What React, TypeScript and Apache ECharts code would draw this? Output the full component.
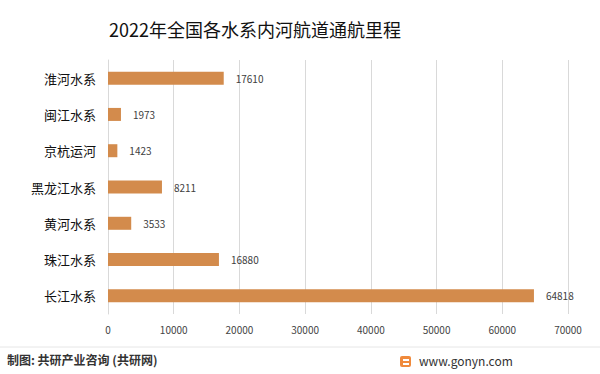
import React, { useEffect, useRef } from "react";
import * as echarts from "echarts";

const categories = ["长江水系", "珠江水系", "黄河水系", "黑龙江水系", "京杭运河", "闽江水系", "淮河水系"];
const values = [64818, 16880, 3533, 8211, 1423, 1973, 17610];
const titleText = "2022年全国各水系内河航道通航里程";
const sourceText = "制图: 共研产业咨询 (共研网)";
const siteText = "www.gonyn.com";

export default function App() {
  const ref = useRef<HTMLDivElement>(null);
  useEffect(() => {
    const chart = echarts.init(ref.current!, null, { renderer: "svg" });
    chart.setOption({
      animation: false,
      backgroundColor: "#ffffff",
      title: {
        text: titleText,
        left: 250,
        textAlign: "center",
        top: 15,
        textStyle: { fontSize: 18, fontWeight: "normal", color: "#111", fontFamily: "Noto Sans CJK SC" },
      },
      grid: { left: 108, right: 32, top: 60, bottom: 60, containLabel: false },
      xAxis: {
        type: "value",
        min: 0,
        max: 70000,
        interval: 10000,
        axisLine: { show: false },
        axisTick: { show: false },
        axisLabel: {
          color: "#444",
          fontSize: 10,
          margin: 10,
          fontFamily: "Noto Sans CJK SC",
          formatter: (v: number) => String(v),
        },
        splitLine: { show: true, lineStyle: { color: "#d9d9d9", width: 1 } },
      },
      yAxis: {
        type: "category",
        data: categories,
        axisLine: { show: true, lineStyle: { color: "#d9d9d9" } },
        axisTick: { show: false },
        axisLabel: { color: "#111", fontSize: 13, margin: 12, fontFamily: "Noto Sans CJK SC" },
      },
      series: [
        {
          type: "bar",
          data: values,
          barWidth: 13,
          itemStyle: { color: "#D38B4C" },
          label: {
            show: true,
            position: "right",
            distance: 12,
            color: "#404040",
            fontSize: 10,
            fontFamily: "Noto Sans CJK SC",
          },
        },
      ],
      graphic: [
        {
          type: "line",
          shape: { x1: 0, y1: 347, x2: 600, y2: 347 },
          style: { stroke: "#e6e6e6", lineWidth: 1 },
        },
        {
          type: "text",
          left: 7,
          top: 353,
          style: { text: sourceText, fontSize: 12, fontWeight: "bold", fill: "#333", fontFamily: "Noto Sans CJK SC" },
        },
        {
          type: "rect",
          shape: { x: 400, y: 356, width: 11, height: 11, r: 2 },
          style: { fill: "#F08A3C" },
        },
        {
          type: "rect",
          shape: { x: 403, y: 359, width: 6, height: 2 },
          style: { fill: "#ffffff" },
        },
        {
          type: "rect",
          shape: { x: 403, y: 363, width: 6, height: 2 },
          style: { fill: "#ffffff" },
        },
        {
          type: "text",
          left: 419,
          top: 354,
          style: { text: siteText, fontSize: 12, fill: "#333", fontFamily: "Noto Sans CJK SC" },
        },
      ],
    });
    return () => chart.dispose();
  }, []);
  return <div ref={ref} style={{ width: 600, height: 374, position: "absolute", left: 0, top: 0 }} />;
}
